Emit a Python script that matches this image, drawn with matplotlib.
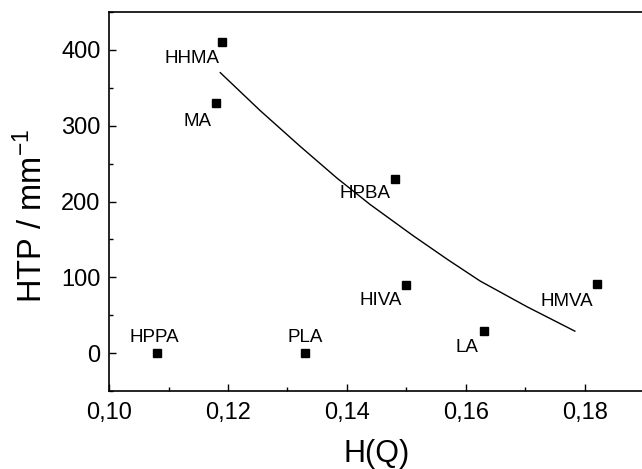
import matplotlib
matplotlib.use("Agg")
import matplotlib.pyplot as plt
from matplotlib.ticker import MultipleLocator

plt.rcParams['font.family'] = ['Liberation Sans', 'DejaVu Sans']
plt.rcParams['mathtext.default'] = 'regular'

# measured points
names = ['HHMA', 'MA', 'HPBA', 'HIVA', 'LA', 'HMVA', 'HPPA', 'PLA']
hq = [0.119, 0.118, 0.148, 0.150, 0.163, 0.182, 0.108, 0.133]
htp = [410, 330, 230, 90, 29, 91, 0, 0]

# fitted curve
fit_x = [0.1187, 0.1254, 0.1321, 0.1383, 0.1439, 0.1511, 0.1570, 0.1624,
         0.1703, 0.1783]
fit_y = [370, 320, 273, 231, 196, 155, 123, 95, 61, 29]

xticks = [0.10, 0.12, 0.14, 0.16, 0.18]
xtick_labels = ['0,10', '0,12', '0,14', '0,16', '0,18']
yticks = [0, 100, 200, 300, 400]

# label offsets in pixels (dx, dy, ha)
offsets = {
    'HHMA': (-3, -16, 'right'),
    'MA': (-5, -19, 'right'),
    'HPBA': (-4, -15, 'right'),
    'HIVA': (-5, -16, 'right'),
    'LA': (-5, -16, 'right'),
    'HMVA': (-4, -17, 'right'),
    'HPPA': (-2, 16, 'center'),
    'PLA': (0, 16, 'center'),
}

fig = plt.figure(figsize=(6.42, 4.69), dpi=100)
ax = fig.add_axes([0.1698, 0.1663, 0.834, 0.8081])

ax.plot(fit_x, fit_y, color='black', lw=1.0)
ax.plot(hq, htp, 's', color='black', ms=6)

for n, x, y in zip(names, hq, htp):
    dx, dy, ha = offsets[n]
    ax.annotate(n, (x, y), xytext=(dx, dy), textcoords='offset pixels',
                ha=ha, va='center', fontsize=13.5)

ax.set_xlim(0.10, 0.19)
ax.set_ylim(-50, 450)
ax.set_xticks(xticks)
ax.set_xticklabels(xtick_labels)
ax.set_yticks(yticks)
ax.xaxis.set_minor_locator(MultipleLocator(0.01))
ax.yaxis.set_minor_locator(MultipleLocator(50))
ax.tick_params(which='both', direction='in', labelsize=17, width=1.0)
ax.tick_params(axis='x', pad=8)
ax.tick_params(axis='y', pad=6)
ax.tick_params(which='major', length=5)
ax.tick_params(which='minor', length=3)
ax.spines['right'].set_visible(False)
for s in ['left', 'bottom', 'top']:
    ax.spines[s].set_linewidth(1.2)

ax.set_xlabel('H(Q)', fontsize=22)
ax.set_ylabel('HTP / mm$^{-1}$', fontsize=23.5)
ax.xaxis.set_label_coords(0.5, -0.127)
ax.yaxis.set_label_coords(-0.112, 0.462)

fig.savefig('out.png', dpi=100)
